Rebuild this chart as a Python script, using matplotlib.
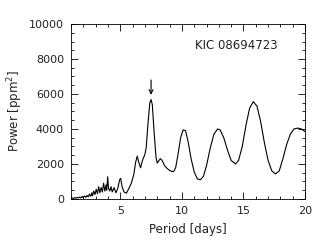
import matplotlib
matplotlib.use('Agg')
import matplotlib.pyplot as plt
from matplotlib.ticker import MultipleLocator

# periodogram (period in days, power in ppm^2)
period = [1.00, 1.10, 1.20, 1.30, 1.40, 1.50, 1.60, 1.70, 1.80, 1.90,
          2.00, 2.10, 2.20, 2.30, 2.40, 2.50, 2.60, 2.70, 2.75, 2.85,
          2.95, 3.05, 3.15, 3.25, 3.35, 3.45, 3.55, 3.65, 3.75, 3.85,
          3.90, 3.98, 4.05, 4.15, 4.25, 4.35, 4.50, 4.65, 4.80, 4.95,
          5.03, 5.15, 5.30, 5.50, 5.70, 5.90, 6.10, 6.25, 6.38, 6.50,
          6.65, 6.80, 7.00, 7.10, 7.25, 7.40, 7.50, 7.60, 7.75, 7.90,
          8.00, 8.10, 8.25, 8.40, 8.60, 8.80, 9.00, 9.20, 9.35, 9.50,
          9.70, 9.90, 10.10, 10.30, 10.50, 10.75, 11.00, 11.25, 11.50, 11.75,
          12.00, 12.30, 12.60, 12.90, 13.10, 13.40, 13.70, 14.00, 14.35, 14.60,
          14.90, 15.20, 15.50, 15.80, 16.10, 16.40, 16.70, 17.00, 17.30, 17.60,
          17.90, 18.20, 18.50, 18.80, 19.10, 19.40, 19.70, 20.00]
power = [30, 60, 20, 80, 40, 90, 50, 110, 60, 140,
         70, 170, 90, 200, 120, 280, 150, 350, 180, 450,
         250, 550, 300, 700, 350, 650, 400, 900, 450, 800,
         500, 1270, 600, 450, 700, 400, 650, 350, 600, 1100,
         1180, 700, 400, 330, 600, 900, 1400, 2100, 2450, 2100,
         1780, 2200, 2550, 2900, 4300, 5500, 5680, 5400, 3800, 2400,
         2050, 2150, 2300, 2200, 1900, 1750, 1630, 1570, 1580, 1800,
         2600, 3500, 3950, 3900, 3300, 2300, 1550, 1150, 1090, 1300,
         1900, 2900, 3700, 4000, 3950, 3500, 2800, 2200, 2000, 2200,
         3000, 4200, 5200, 5560, 5300, 4400, 3200, 2200, 1600, 1430,
         1600, 2300, 3100, 3700, 4000, 4050, 4000, 3850]

star = 'KIC 08694723'
arrow_period = 7.5
arrow_top, arrow_tip = 6800, 5950

plt.rcParams['font.family'] = ['DejaVu Sans']
fig = plt.figure(figsize=(3.27, 2.45), dpi=100)
ax = fig.add_axes([0.217, 0.188, 0.716, 0.714])

ax.plot(period, power, color='black', lw=0.8)
ax.annotate('', xy=(arrow_period, arrow_tip), xytext=(arrow_period, arrow_top),
            arrowprops=dict(arrowstyle='->', color='black', lw=0.8,
                            shrinkA=0, shrinkB=0, mutation_scale=7))
ax.text(17.8, 8800, star, ha='right', va='center', fontsize=8.5,
        color='#222222')

ax.set_xlim(1, 20)
ax.set_ylim(0, 10000)
ax.xaxis.set_major_locator(MultipleLocator(5))
ax.xaxis.set_minor_locator(MultipleLocator(1))
ax.yaxis.set_major_locator(MultipleLocator(2000))
ax.yaxis.set_minor_locator(MultipleLocator(500))
ax.tick_params(which='both', direction='in', top=True, right=True,
               labelsize=8, width=0.6, pad=5, labelcolor='#222222')
ax.tick_params(which='major', length=5)
ax.tick_params(which='minor', length=2.5)
for s in ax.spines.values():
    s.set_linewidth(0.6)

ax.set_xlabel('Period [days]', fontsize=8.5, labelpad=5, color='#222222')
ax.set_ylabel('Power [ppm$^2$]', fontsize=8.5, labelpad=3, color='#222222')

fig.savefig('out.png', dpi=100)
